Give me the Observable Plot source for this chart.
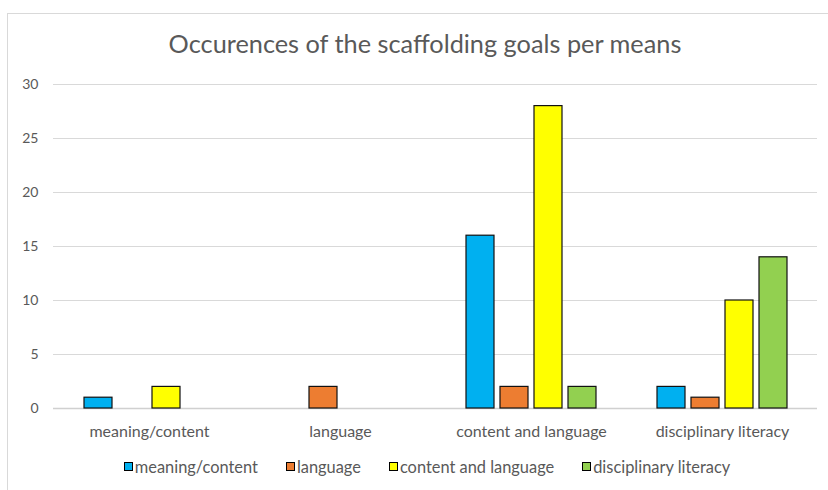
<!DOCTYPE html>
<html>
<head>
<meta charset="utf-8">
<script src="https://cdn.jsdelivr.net/npm/d3@7"></script>
<script src="https://cdn.jsdelivr.net/npm/@observablehq/plot@0.6"></script>
<style>
  html, body { margin: 0; padding: 0; background: #fff; }
  body { width: 828px; height: 490px; position: relative; overflow: hidden; font-family: Lato, "Open Sans", sans-serif; }
  #frame { position: absolute; left: 7px; top: 13px; width: 900px; height: 600px; border: 1.5px solid #d9d9d9; box-sizing: border-box; }
  #title { position: absolute; left: 0; width: 850px; top: 28px; text-align: center; font-size: 25.3px; color: #595959; z-index: 5; }
  #bg, #fg { position: absolute; left: 0; top: 0; }
  #legend { position: absolute; left: 0; width: 854px; top: 457px; display: flex; justify-content: center; font-size: 16.4px; color: #595959; }
  .item { display: flex; align-items: center; margin: 0 14px; }
  .sw { width: 7px; height: 7px; border: 1px solid #000; margin-right: 2px; }
</style>
</head>
<body>
<div id="frame"></div>
<div id="bg"></div>
<div id="fg"></div>
<div id="title">Occurences of the scaffolding goals per means</div>
<div id="legend"></div>
<script>
const groups = ["meaning/content", "language", "content and language", "disciplinary literacy"];
const series = ["meaning/content", "language", "content and language", "disciplinary literacy"];
const colors = ["#00B0F0", "#ED7D31", "#FFFF00", "#92D050"];
// values per series, indexed by group
const meaningContent = [1, 0, 16, 2];
const languageVals = [0, 2, 2, 1];
const contentLanguage = [2, 0, 28, 10];
const disciplinaryLiteracy = [0, 0, 2, 14];
const yTicks = [0, 5, 10, 15, 20, 25, 30];

const seriesValues = [meaningContent, languageVals, contentLanguage, disciplinaryLiteracy];
const data = [];
groups.forEach((g, gi) => {
  series.forEach((s, si) => {
    const v = seriesValues[si][gi];
    if (v > 0) data.push({group: g, series: s, value: v});
  });
});

const W = 828, H = 440;
const common = {width: W, height: H, marginLeft: 53, marginRight: 11, marginTop: 84, marginBottom: 32};

const bg = Plot.plot({
  ...common,
  style: {fontFamily: "Lato, 'Open Sans', sans-serif", fontSize: "14px", color: "#595959", background: "transparent"},
  x: {axis: null, domain: [0, 1]},
  y: {domain: [0, 30], ticks: yTicks, tickSize: 0, tickPadding: 15, label: null, tickFormat: d3.format("d")},
  marks: [
    Plot.ruleY(yTicks.filter(d => d > 0), {stroke: "#d9d9d9", strokeWidth: 1}),
    Plot.ruleY([0], {stroke: "#d0d0d0", strokeWidth: 1.5})
  ]
});
document.getElementById("bg").appendChild(bg);

const fg = Plot.plot({
  ...common,
  style: {fontFamily: "Lato, 'Open Sans', sans-serif", fontSize: "16px", color: "#595959", background: "transparent"},
  fx: {domain: groups, paddingInner: 0.31, paddingOuter: 0.155, axis: "bottom", label: null, tickSize: 0, tickPadding: 17},
  x: {domain: series, paddingInner: 0.19, paddingOuter: 0, axis: null},
  y: {domain: [0, 30], axis: null},
  color: {domain: series, range: colors},
  facet: {data: data, x: "group"},
  marks: [
    Plot.barY(data, {x: "series", y: "value", fill: "series", stroke: "#111", strokeWidth: 1.2})
  ]
});
document.getElementById("fg").appendChild(fg);

const legend = document.getElementById("legend");
series.forEach((s, i) => {
  const item = document.createElement("div");
  item.className = "item";
  const sw = document.createElement("div");
  sw.className = "sw";
  sw.style.background = colors[i];
  const t = document.createElement("span");
  t.textContent = s;
  item.appendChild(sw);
  item.appendChild(t);
  legend.appendChild(item);
});
</script>
</body>
</html>
